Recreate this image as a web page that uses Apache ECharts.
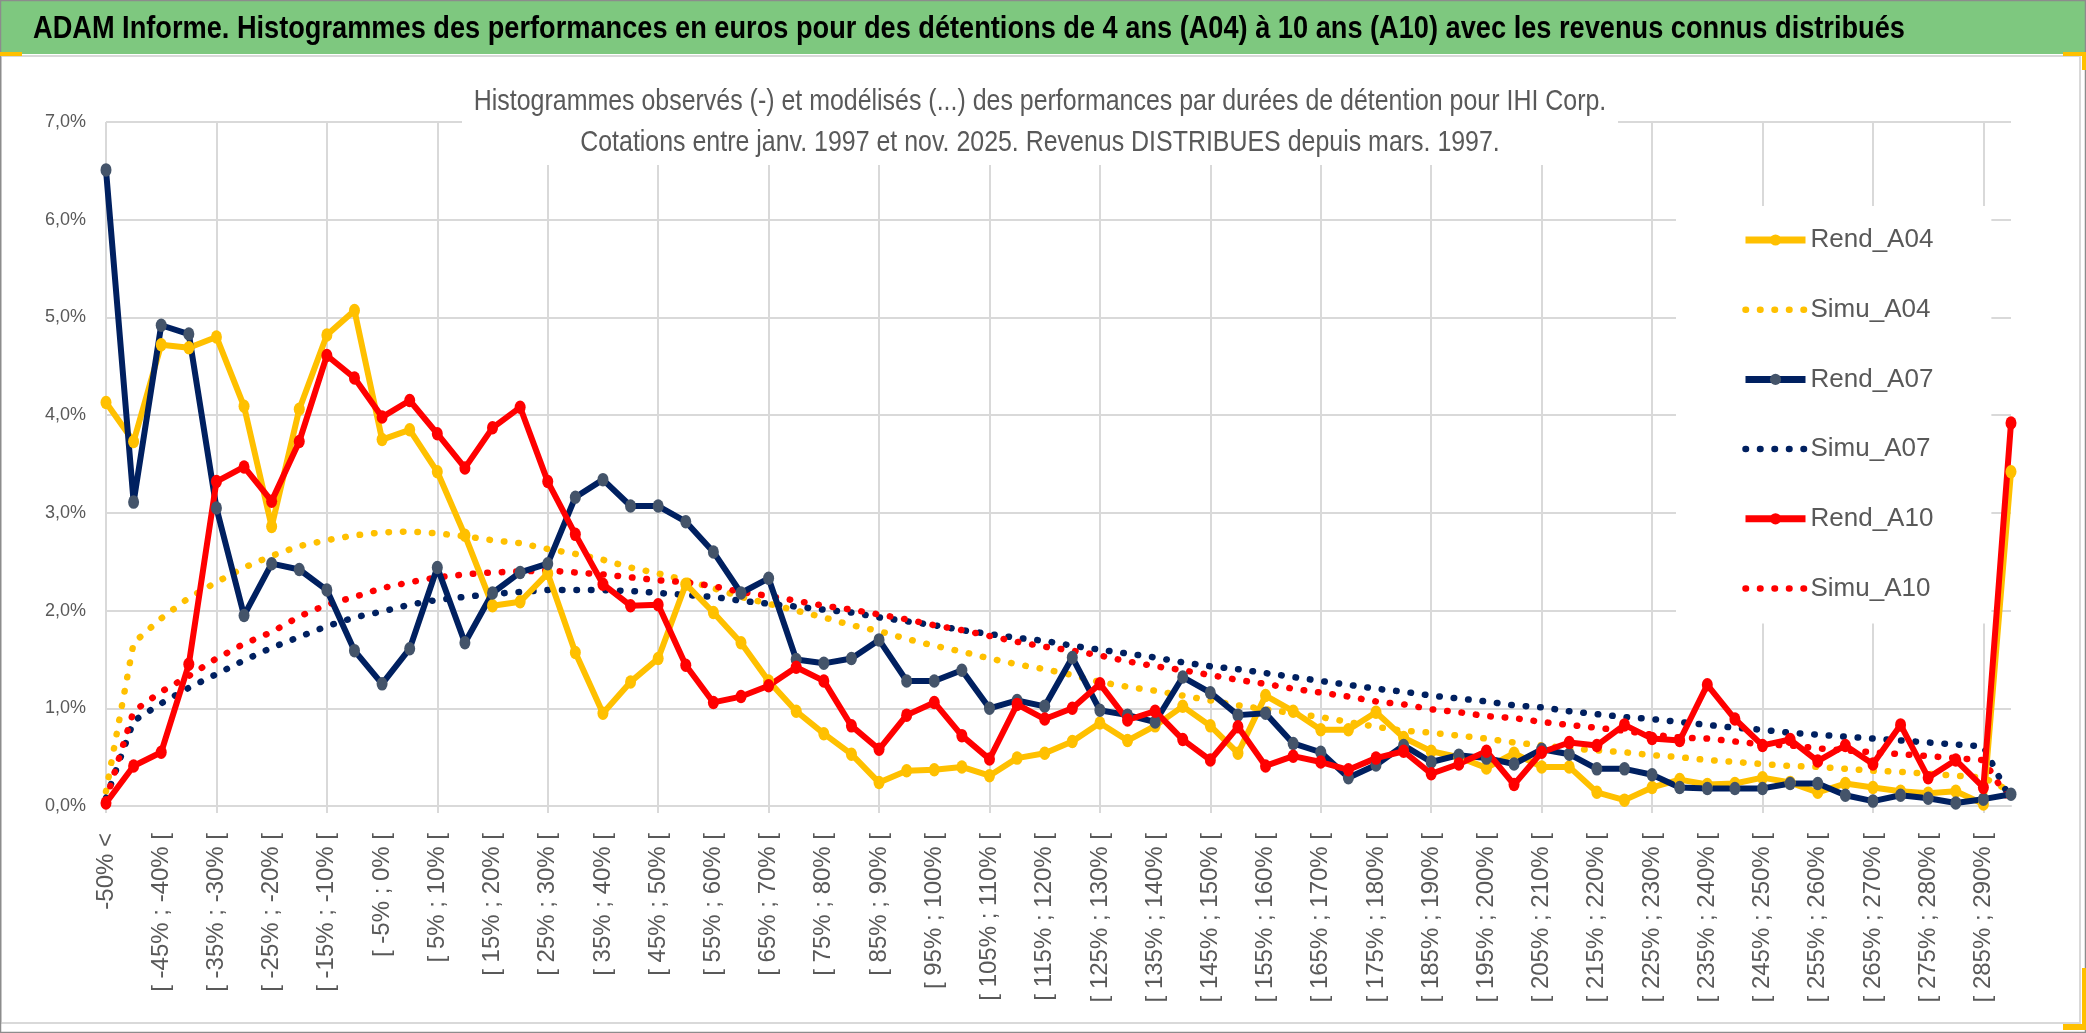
<!DOCTYPE html>
<html>
<head>
<meta charset="utf-8">
<script src="https://cdn.jsdelivr.net/npm/echarts@6/dist/echarts.min.js"></script>
<style>
  html, body { margin: 0; padding: 0; background: #ffffff; }
  #chart { width: 2086px; height: 1033px; }
</style>
</head>
<body>
<div id="chart"></div>
<script>
// ---------- DATA ----------
var categories = [
  "-50% <",
  "[ -50% ; -45% [", "[ -45% ; -40% [", "[ -40% ; -35% [", "[ -35% ; -30% [",
  "[ -30% ; -25% [", "[ -25% ; -20% [", "[ -20% ; -15% [", "[ -15% ; -10% [",
  "[ -10% ; -5% [", "[ -5% ; 0% [", "[ 0% ; 5% [", "[ 5% ; 10% [",
  "[ 10% ; 15% [", "[ 15% ; 20% [", "[ 20% ; 25% [", "[ 25% ; 30% [",
  "[ 30% ; 35% [", "[ 35% ; 40% [", "[ 40% ; 45% [", "[ 45% ; 50% [",
  "[ 50% ; 55% [", "[ 55% ; 60% [", "[ 60% ; 65% [", "[ 65% ; 70% [",
  "[ 70% ; 75% [", "[ 75% ; 80% [", "[ 80% ; 85% [", "[ 85% ; 90% [",
  "[ 90% ; 95% [", "[ 95% ; 100% [", "[ 100% ; 105% [", "[ 105% ; 110% [",
  "[ 110% ; 115% [", "[ 115% ; 120% [", "[ 120% ; 125% [", "[ 125% ; 130% [",
  "[ 130% ; 135% [", "[ 135% ; 140% [", "[ 140% ; 145% [", "[ 145% ; 150% [",
  "[ 150% ; 155% [", "[ 155% ; 160% [", "[ 160% ; 165% [", "[ 165% ; 170% [",
  "[ 170% ; 175% [", "[ 175% ; 180% [", "[ 180% ; 185% [", "[ 185% ; 190% [",
  "[ 190% ; 195% [", "[ 195% ; 200% [", "[ 200% ; 205% [", "[ 205% ; 210% [",
  "[ 210% ; 215% [", "[ 215% ; 220% [", "[ 220% ; 225% [", "[ 225% ; 230% [",
  "[ 230% ; 235% [", "[ 235% ; 240% [", "[ 240% ; 245% [", "[ 245% ; 250% [",
  "[ 250% ; 255% [", "[ 255% ; 260% [", "[ 260% ; 265% [", "[ 265% ; 270% [",
  "[ 270% ; 275% [", "[ 275% ; 280% [", "[ 280% ; 285% [", "[ 285% ; 290% [",
  "290% >"
];

var rendA04 = [4.13, 3.73, 4.72, 4.69, 4.80, 4.09, 2.86, 4.06, 4.82, 5.07,
  3.75, 3.85, 3.42, 2.77, 2.05, 2.09, 2.38, 1.57, 0.95, 1.27,
  1.51, 2.27, 1.98, 1.67, 1.28, 0.97, 0.74, 0.53, 0.24, 0.36,
  0.37, 0.40, 0.31, 0.49, 0.54, 0.66, 0.85, 0.67, 0.82, 1.02,
  0.82, 0.54, 1.13, 0.97, 0.78, 0.78, 0.96, 0.70, 0.56, 0.50,
  0.39, 0.54, 0.40, 0.40, 0.14, 0.06, 0.19, 0.27, 0.22, 0.23,
  0.29, 0.24, 0.14, 0.23, 0.19, 0.15, 0.13, 0.15, 0.02, 3.42];

var simuA04 = [0.15, 1.67, 1.92, 2.13, 2.29, 2.44, 2.56, 2.66, 2.72, 2.77,
  2.80, 2.81, 2.79, 2.76, 2.72, 2.69, 2.63, 2.58, 2.52, 2.44,
  2.38, 2.31, 2.23, 2.14, 2.07, 2.00, 1.93, 1.85, 1.79, 1.71,
  1.64, 1.58, 1.51, 1.45, 1.40, 1.34, 1.27, 1.22, 1.18, 1.13,
  1.08, 1.03, 0.99, 0.95, 0.91, 0.86, 0.81, 0.77, 0.75, 0.72,
  0.69, 0.65, 0.62, 0.59, 0.57, 0.55, 0.52, 0.50, 0.47, 0.45,
  0.43, 0.41, 0.40, 0.38, 0.36, 0.35, 0.33, 0.31, 0.29, 0.15];

var rendA07 = [6.51, 3.11, 4.92, 4.83, 3.05, 1.95, 2.48, 2.42, 2.21, 1.59,
  1.25, 1.61, 2.44, 1.67, 2.18, 2.39, 2.48, 3.16, 3.34, 3.07,
  3.07, 2.91, 2.60, 2.18, 2.33, 1.50, 1.46, 1.51, 1.70, 1.28,
  1.28, 1.39, 1.00, 1.08, 1.02, 1.52, 0.98, 0.93, 0.86, 1.32,
  1.16, 0.93, 0.95, 0.64, 0.55, 0.29, 0.42, 0.62, 0.45, 0.52,
  0.49, 0.43, 0.58, 0.53, 0.38, 0.38, 0.32, 0.19, 0.18, 0.18,
  0.18, 0.23, 0.23, 0.11, 0.05, 0.11, 0.08, 0.03, 0.07, 0.12];

var simuA07 = [0.08, 0.87, 1.05, 1.21, 1.35, 1.49, 1.62, 1.73, 1.84, 1.93,
  1.99, 2.06, 2.11, 2.14, 2.17, 2.19, 2.21, 2.21, 2.21, 2.20,
  2.18, 2.16, 2.14, 2.10, 2.07, 2.04, 2.01, 1.98, 1.93, 1.89,
  1.85, 1.80, 1.76, 1.72, 1.69, 1.64, 1.60, 1.56, 1.52, 1.47,
  1.43, 1.40, 1.36, 1.32, 1.28, 1.24, 1.20, 1.17, 1.13, 1.10,
  1.07, 1.03, 1.01, 0.97, 0.94, 0.91, 0.89, 0.86, 0.83, 0.80,
  0.78, 0.75, 0.73, 0.71, 0.69, 0.67, 0.65, 0.63, 0.61, 0.06];

var rendA10 = [0.03, 0.41, 0.55, 1.45, 3.32, 3.47, 3.12, 3.73, 4.61, 4.38,
  3.98, 4.15, 3.81, 3.46, 3.87, 4.08, 3.32, 2.78, 2.27, 2.05,
  2.06, 1.44, 1.06, 1.12, 1.23, 1.42, 1.28, 0.82, 0.58, 0.93,
  1.06, 0.72, 0.48, 1.04, 0.89, 1.00, 1.25, 0.88, 0.97, 0.68,
  0.47, 0.81, 0.41, 0.51, 0.45, 0.37, 0.49, 0.56, 0.33, 0.43,
  0.56, 0.22, 0.55, 0.65, 0.62, 0.83, 0.69, 0.67, 1.24, 0.89,
  0.62, 0.68, 0.46, 0.62, 0.43, 0.83, 0.29, 0.47, 0.19, 3.92];

var simuA10 = [0.06, 0.97, 1.17, 1.33, 1.51, 1.66, 1.78, 1.94, 2.06, 2.14,
  2.23, 2.29, 2.34, 2.37, 2.39, 2.40, 2.41, 2.39, 2.37, 2.34,
  2.31, 2.29, 2.25, 2.19, 2.15, 2.10, 2.05, 2.01, 1.96, 1.91,
  1.85, 1.80, 1.74, 1.68, 1.63, 1.59, 1.54, 1.48, 1.43, 1.39,
  1.34, 1.29, 1.25, 1.20, 1.16, 1.12, 1.07, 1.04, 0.99, 0.96,
  0.92, 0.90, 0.86, 0.83, 0.80, 0.77, 0.73, 0.70, 0.69, 0.66,
  0.63, 0.62, 0.59, 0.57, 0.55, 0.53, 0.51, 0.49, 0.47, 0.03];

var yTicks = [0, 1, 2, 3, 4, 5, 6, 7];

var seriesNames = ['Rend_A04', 'Simu_A04', 'Rend_A07', 'Simu_A07', 'Rend_A10', 'Simu_A10'];

var mainTitle = "ADAM Informe. Histogrammes des performances en euros pour des détentions de 4 ans (A04) à 10 ans (A10) avec les revenus connus distribués";
var subTitle = "Histogrammes observés (-) et modélisés (...) des performances par durées de détention pour IHI Corp.\nCotations entre janv. 1997 et nov. 2025. Revenus DISTRIBUES depuis mars. 1997.";

// ---------- STYLE ----------
var FONT = "'Liberation Sans', Arial, sans-serif";
var YELLOW = '#FFC000', NAVY = '#002060', RED = '#FF0000', SLATE = '#44546A';
var GRID = '#D9D9D9', TXT = '#595959';
var DOTS = [0.5, 14];

function rend(name, data, lineColor, markerColor) {
  return {
    name: name, type: 'line', data: data,
    symbol: 'circle', symbolSize: [11, 13.5], showSymbol: true,
    lineStyle: { color: lineColor, width: 6 },
    itemStyle: { color: markerColor },
    emphasis: { disabled: true },
    z: 3
  };
}
function simu(name, data, color) {
  return {
    name: name, type: 'line', data: data,
    symbol: 'none',
    lineStyle: { color: color, width: 6.5, type: DOTS, cap: 'round' },
    itemStyle: { color: color },
    emphasis: { disabled: true },
    z: 2
  };
}

function legendItem(name) {
  var isSimu = name.indexOf('Simu') === 0;
  return isSimu
    ? { name: name, itemStyle: { opacity: 0 }, lineStyle: { width: 6.5 } }
    : { name: name, lineStyle: { width: 7 } };
}

var chart = echarts.init(document.getElementById('chart'), null, { renderer: 'canvas' });
chart.setOption({
  animation: false,
  backgroundColor: '#ffffff',
  graphic: [
    { type: 'rect', shape: { x: 0, y: 0, width: 2086, height: 54 }, style: { fill: '#7EC87F' }, z: 0, silent: true },
    { type: 'rect', shape: { x: 1, y: 56, width: 2079, height: 967 }, style: { fill: 'none', stroke: GRID, lineWidth: 2 }, z: 0, silent: true },
    { type: 'rect', shape: { x: 0.5, y: 0.5, width: 2085, height: 1032 }, style: { fill: 'none', stroke: '#8C8C8C', lineWidth: 1.5 }, z: 0, silent: true },
    { type: 'rect', shape: { x: 0, y: 52, width: 22, height: 4 }, style: { fill: YELLOW }, z: 1, silent: true },
    { type: 'rect', shape: { x: 2063, y: 52, width: 23, height: 4 }, style: { fill: YELLOW }, z: 1, silent: true },
    { type: 'rect', shape: { x: 2082, y: 52, width: 4, height: 18 }, style: { fill: YELLOW }, z: 1, silent: true },
    { type: 'rect', shape: { x: 2082, y: 968, width: 4, height: 62 }, style: { fill: YELLOW }, z: 1, silent: true },
    { type: 'rect', shape: { x: 2063, y: 1024, width: 23, height: 6 }, style: { fill: YELLOW }, z: 1, silent: true },
    // header title
    {
      type: 'text', x: 33, y: 29, scaleX: 0.877, z: 20, silent: true,
      style: { text: mainTitle, fontFamily: FONT, fontWeight: 'bold', fontSize: 31, fill: '#000000', align: 'left', verticalAlign: 'middle' }
    },
    // subtitle box + text
    { type: 'rect', shape: { x: 462, y: 80, width: 1156, height: 85 }, style: { fill: '#ffffff' }, z: 50, silent: true },
    {
      type: 'text', x: 1040, y: 81, scaleX: 0.86, z: 51, silent: true,
      style: { text: subTitle, fontFamily: FONT, fontSize: 29, lineHeight: 41.5, fill: TXT, align: 'center', verticalAlign: 'top' }
    }
  ],
  legend: {
    orient: 'vertical', left: 1676, top: 206, z: 1,
    padding: [21, 58, 22, 66],
    itemGap: 43.7, itemWidth: 60, itemHeight: 14,
    backgroundColor: '#ffffff',
    textStyle: { fontFamily: FONT, fontSize: 26, color: TXT },
    data: seriesNames.map(legendItem),
    selectedMode: false
  },
  grid: { left: 106, right: 75, top: 122, bottom: 227, containLabel: false },
  xAxis: {
    type: 'category', data: categories, boundaryGap: false,
    axisLine: { show: true, lineStyle: { color: GRID, width: 2 } },
    axisTick: { show: true, length: 7, interval: function (i) { return i % 4 === 0; }, lineStyle: { color: GRID, width: 2 } },
    splitLine: { show: true, interval: function (i) { return i % 4 === 0; }, lineStyle: { color: GRID, width: 2 } },
    axisLabel: {
      interval: 1, rotate: 90, margin: 27,
      fontFamily: FONT, fontSize: 24, color: TXT
    }
  },
  yAxis: {
    type: 'value', min: yTicks[0], max: yTicks[yTicks.length - 1], interval: 1,
    axisLine: { show: false }, axisTick: { show: false },
    splitLine: { show: true, lineStyle: { color: GRID, width: 2 } },
    axisLabel: {
      margin: 20, fontFamily: FONT, fontSize: 18, color: TXT,
      formatter: function (v) { return v.toFixed(1).replace('.', ',') + '%'; }
    }
  },
  series: [
    rend(seriesNames[0], rendA04, YELLOW, YELLOW),
    simu(seriesNames[1], simuA04, YELLOW),
    rend(seriesNames[2], rendA07, NAVY, SLATE),
    simu(seriesNames[3], simuA07, NAVY),
    rend(seriesNames[4], rendA10, RED, RED),
    simu(seriesNames[5], simuA10, RED)
  ]
});
</script>
</body>
</html>
